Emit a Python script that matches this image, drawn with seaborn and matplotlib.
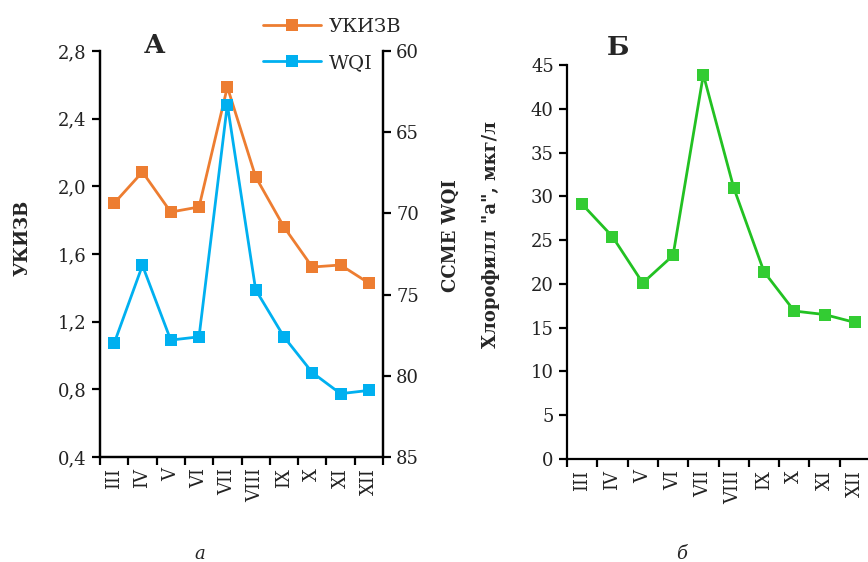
import matplotlib
matplotlib.use("Agg")
import matplotlib.pyplot as plt
import seaborn as sns
import pandas as pd
from matplotlib.ticker import FixedLocator, FixedFormatter, NullFormatter
from matplotlib.lines import Line2D

months = ["III", "IV", "V", "VI", "VII", "VIII", "IX", "X", "XI", "XII"]
ukizv = [1.90, 2.085, 1.848, 1.878, 2.587, 2.056, 1.76, 1.523, 1.535, 1.428]
wqi = [78.0, 73.2, 77.8, 77.6, 63.3, 74.7, 77.6, 79.8, 81.1, 80.9]
chl = [29.1, 25.4, 20.1, 23.25, 43.9, 31.0, 21.4, 16.9, 16.5, 15.6]

left_ticks = [0.4, 0.8, 1.2, 1.6, 2.0, 2.4, 2.8]
left_labels = ["0,4", "0,8", "1,2", "1,6", "2,0", "2,4", "2,8"]
wqi_ticks = [60, 65, 70, 75, 80, 85]
chl_ticks = [0, 5, 10, 15, 20, 25, 30, 35, 40, 45]

C_OR = "#ED7D31"
C_BL = "#00B0F0"
C_GR_LINE = "#22C122"
C_GR_MK = "#33CC33"

sns.set_theme(style="ticks")
plt.rcParams["font.family"] = ["DejaVu Serif"]
plt.rcParams["axes.linewidth"] = 1.6
FS = 13

W, H = 868, 562
fig = plt.figure(figsize=(W / 100, H / 100), dpi=100)

def rect(l, t, r, b):
    return [l / W, (H - b) / H, (r - l) / W, (b - t) / H]

df = pd.DataFrame({"month": months, "ukizv": ukizv, "wqi": wqi, "chl": chl})

def style_x(ax):
    n = len(months)
    ax.set_xlim(-0.5, n - 0.5)
    ax.xaxis.set_major_locator(FixedLocator(list(range(n))))
    ax.xaxis.set_major_formatter(FixedFormatter(months))
    ax.xaxis.set_minor_locator(FixedLocator([i - 0.5 for i in range(n + 1)]))
    ax.xaxis.set_minor_formatter(NullFormatter())
    ax.tick_params(axis="x", which="major", length=0, labelrotation=90, labelsize=FS, pad=8, colors="#222222")
    ax.tick_params(axis="x", which="minor", length=6, width=1.6, direction="out", color="black")
    ax.set_xlabel("")

# ---------- Panel A ----------
ax = fig.add_axes(rect(100, 51, 383, 457))
sns.lineplot(data=df, x="month", y="ukizv", ax=ax, color=C_OR, marker="s",
             markersize=8, markeredgewidth=0, linewidth=2, sort=False)
ax.set_ylim(0.4, 2.8)
ax.yaxis.set_major_locator(FixedLocator(left_ticks))
ax.yaxis.set_major_formatter(FixedFormatter(left_labels))
ax.tick_params(axis="y", length=6, width=1.6, direction="out", labelsize=FS, colors="#222222")
ax.tick_params(axis="y", color="black")
style_x(ax)
ax.set_ylabel("УКИЗВ", fontsize=FS, fontweight="bold")
ax.yaxis.set_label_coords(-0.243, 0.54)
ax.spines["top"].set_visible(False)
for s in ["left", "bottom", "right"]:
    ax.spines[s].set_color("black")

ax2 = ax.twinx()
sns.lineplot(data=df, x="month", y="wqi", ax=ax2, color=C_BL, marker="s",
             markersize=8, markeredgewidth=0, linewidth=2, sort=False)
ax2.set_ylim(85, 60)
ax2.yaxis.set_major_locator(FixedLocator(wqi_ticks))
ax2.tick_params(axis="y", length=6, width=1.6, direction="out", labelsize=FS, colors="#222222")
ax2.tick_params(axis="y", color="black")
ax2.set_ylabel("CCME WQI", fontsize=FS, fontweight="bold")
ax2.yaxis.set_label_coords(1.207, 0.545)
ax2.spines["top"].set_visible(False)
for s in ["left", "bottom", "right"]:
    ax2.spines[s].set_color("black")
    ax2.spines[s].set_linewidth(1.6)
style_x(ax2)
ax2.set_xlabel("")

handles = [
    Line2D([], [], color=C_OR, marker="s", markersize=8, markeredgewidth=0, linewidth=2),
    Line2D([], [], color=C_BL, marker="s", markersize=8, markeredgewidth=0, linewidth=2),
]
fig.legend(handles, ["УКИЗВ", "WQI"], loc="upper left",
           bbox_to_anchor=(245 / W, 1 - 0 / H), frameon=False, fontsize=14,
           handlelength=3.0, handletextpad=0.4, labelspacing=0.95)

fig.text(154 / W, 1 - 53 / H, "А", fontsize=19, fontweight="bold", ha="center", va="baseline")
fig.text(200 / W, 1 - 559 / H, "а", fontsize=FS, style="italic", ha="center", va="baseline")

# ---------- Panel B ----------
bx = fig.add_axes(rect(567, 65, 870, 459))
sns.lineplot(data=df, x="month", y="chl", ax=bx, color=C_GR_LINE, marker="s",
             markersize=8, markeredgewidth=0, markerfacecolor=C_GR_MK,
             linewidth=2, sort=False)
bx.set_ylim(0, 45)
bx.yaxis.set_major_locator(FixedLocator(chl_ticks))
bx.tick_params(axis="y", length=6, width=1.6, direction="out", labelsize=FS, colors="#222222")
bx.tick_params(axis="y", color="black")
style_x(bx)
bx.set_ylabel('Хлорофилл "а", мкг/л', fontsize=FS, fontweight="bold")
bx.yaxis.set_label_coords(-0.222, 0.57)
bx.spines["top"].set_visible(False)
bx.spines["right"].set_visible(False)
for s in ["left", "bottom"]:
    bx.spines[s].set_color("black")

fig.text(618 / W, 1 - 55 / H, "Б", fontsize=19, fontweight="bold", ha="center", va="baseline")
fig.text(682 / W, 1 - 559 / H, "б", fontsize=FS, style="italic", ha="center", va="baseline")

fig.savefig("out.png", dpi=100)
